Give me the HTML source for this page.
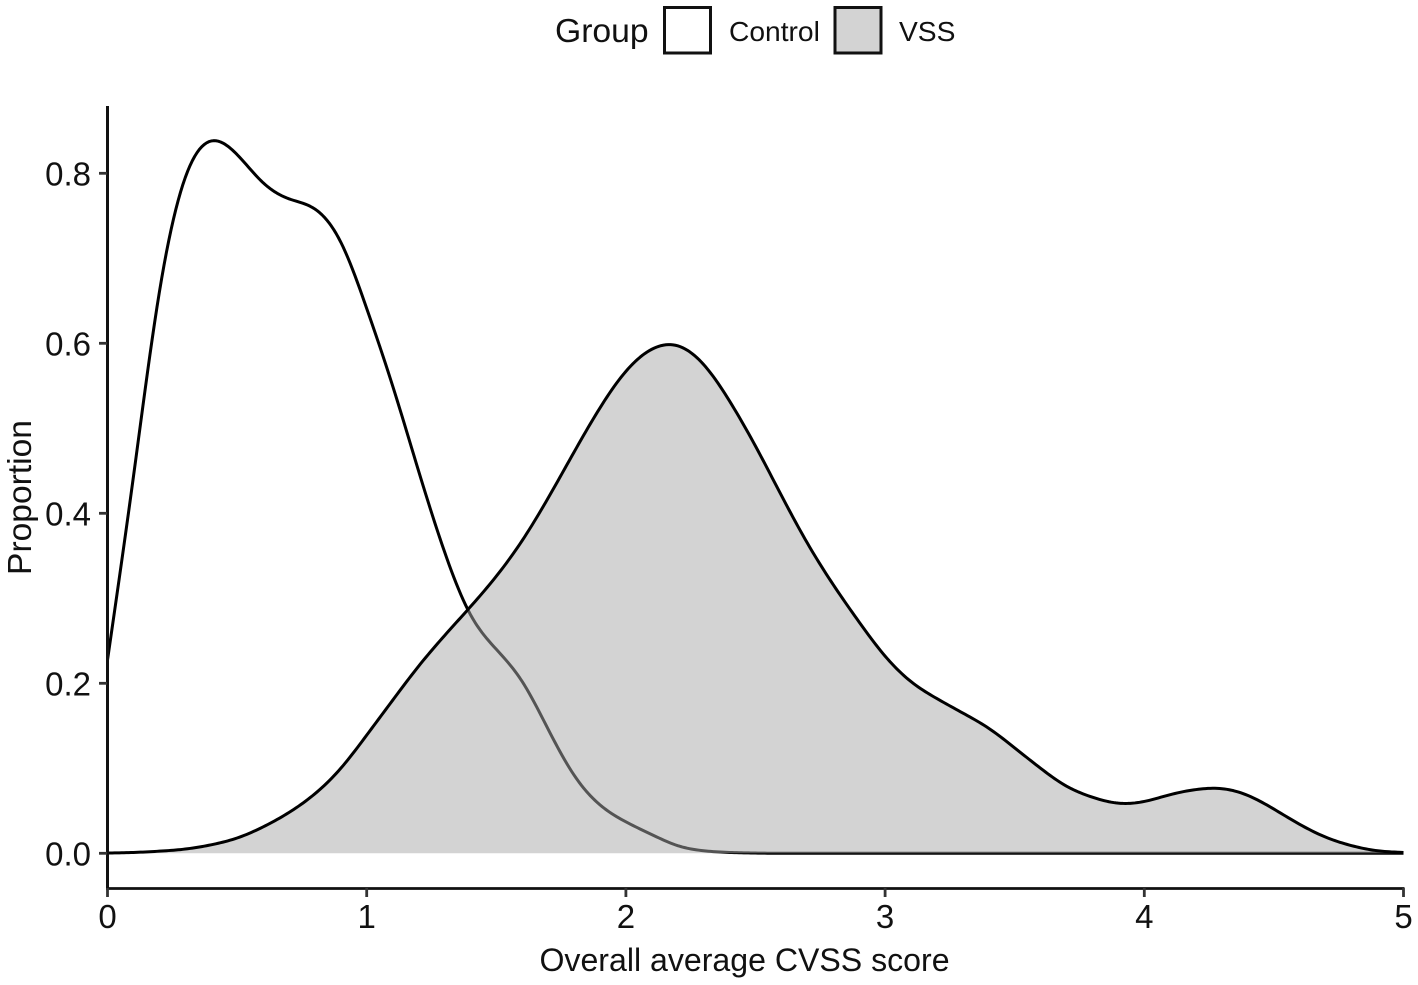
<!DOCTYPE html>
<html lang="en">
<head>
<meta charset="utf-8">
<title>Overall average CVSS score density</title>
<style>
html,body{margin:0;padding:0;background:#fff;}
svg{display:block;font-family:"Liberation Sans",Arial,sans-serif;fill:#111;}
</style>
</head>
<body>
<svg id="chart" width="1418" height="985" viewBox="0 0 1418 985" xmlns="http://www.w3.org/2000/svg">
  <g id="plot"></g>
  <g id="axes"></g>
  <text x="744.5" y="971" font-size="32.1" text-anchor="middle">Overall average CVSS score</text>
  <text transform="translate(31,497.5) rotate(-90)" font-size="33.6" text-anchor="middle">Proportion</text>
  <g>
    <text x="555" y="42" font-size="33.7">Group</text>
    <rect x="664.5" y="7.5" width="46" height="45.5" fill="#fff" stroke="#111" stroke-width="3"/>
    <text x="729" y="41" font-size="28.2">Control</text>
    <rect x="835" y="7.5" width="46" height="45.5" fill="#d3d3d3" stroke="#111" stroke-width="3"/>
    <text x="899" y="41" font-size="28.2">VSS</text>
  </g>
</svg>
<script>
const xTickLabels = ["0","1","2","3","4","5"];
const yTickLabels = ["0.0","0.2","0.4","0.6","0.8"];

const controlScores = [0,.1,.2,.3,.4,.5,.6,.7,.8,.9,1,1.1,1.2,1.3,1.4,1.5,1.6,1.7,1.8,1.9,2,2.1,2.2,2.3,2.4,2.5,2.6,2.8,3,3.5,4,4.5,5];
const controlDensity = [.2274,.443,.66,.795,.838,.822,.789,.77,.758,.719,.641,.55,.45,.355,.281,.24,.202,.146,.092,.057,.037,.022,.009,.003,.001,.0003,0,0,0,0,0,0,0];

const vssScores = [0,.1,.2,.3,.4,.5,.6,.7,.8,.9,1,1.1,1.2,1.3,1.4,1.5,1.6,1.7,1.8,1.9,2,2.1,2.2,2.3,2.4,2.5,2.6,2.7,2.8,2.9,3,3.1,3.2,3.3,3.4,3.5,3.6,3.7,3.8,3.9,4,4.1,4.2,4.3,4.4,4.5,4.6,4.7,4.8,4.9,5];
const vssDensity = [.0003,.001,.0025,.005,.01,.018,.031,.048,.07,.1,.139,.18,.22,.256,.29,.326,.368,.418,.472,.524,.567,.593,.597,.575,.532,.479,.421,.365,.316,.272,.232,.202,.182,.165,.147,.124,.1,.079,.066,.059,.061,.069,.075,.076,.068,.052,.034,.019,.009,.003,.001];

const NS = "http://www.w3.org/2000/svg";
function xScale(v){ return 107.5 + v * 259.2; }
function yScale(v){ return 853.3 - v * 850; }

// natural cubic spline through the data, sampled along the x axis
function smoothPath(xs, ys){
  const n = xs.length, a = new Array(n).fill(0), b = new Array(n).fill(1), c = new Array(n).fill(0), r = new Array(n).fill(0);
  for(let i=1;i<n-1;i++){
    const h0 = xs[i]-xs[i-1], h1 = xs[i+1]-xs[i];
    a[i] = h0; b[i] = 2*(h0+h1); c[i] = h1;
    r[i] = 6*((ys[i+1]-ys[i])/h1-(ys[i]-ys[i-1])/h0);
  }
  for(let i=1;i<n;i++){
    const m = a[i]/b[i-1];
    b[i] -= m*c[i-1];
    r[i] -= m*r[i-1];
  }
  const M = new Array(n).fill(0);
  M[n-1] = r[n-1]/b[n-1];
  for(let i=n-2;i>=0;i--){ M[i] = (r[i]-c[i]*M[i+1])/b[i]; }
  const parts = [];
  for(let i=0;i<n-1;i++){
    const h = xs[i+1]-xs[i], steps = Math.max(2, Math.ceil(h*259.2/2.5));
    for(let s=(i===0?0:1);s<=steps;s++){
      const x = xs[i]+h*s/steps, A = (xs[i+1]-x)/h, B = (x-xs[i])/h;
      const y = A*ys[i]+B*ys[i+1]+((A*A*A-A)*M[i]+(B*B*B-B)*M[i+1])*h*h/6;
      parts.push(xScale(x).toFixed(2)+" "+yScale(Math.max(y,0)).toFixed(2));
    }
  }
  return "M"+parts.join(" L");
}
function make(tag, attrs){
  const el = document.createElementNS(NS, tag);
  for(const k in attrs){ el.setAttribute(k, attrs[k]); }
  return el;
}

const plot = document.getElementById("plot");
const axes = document.getElementById("axes");

const controlLine = make("path", {d: smoothPath(controlScores, controlDensity), fill:"none", stroke:"#000", "stroke-width":"3", "stroke-linejoin":"round"});


plot.appendChild(controlLine);

const vssCurve = smoothPath(vssScores, vssDensity);
const vssFillPath = vssCurve + " L" + xScale(vssScores[vssScores.length-1]).toFixed(2) + " " + yScale(0).toFixed(2) + " L" + xScale(vssScores[0]).toFixed(2) + " " + yScale(0).toFixed(2) + " Z";
const vssFill = make("path", {d: vssFillPath, fill:"rgb(167,167,167)", "fill-opacity":"0.5", stroke:"none"});


plot.appendChild(vssFill);

const vssLine = make("path", {d: vssCurve, fill:"none", stroke:"#000", "stroke-width":"3", "stroke-linejoin":"round"});


plot.appendChild(vssLine);

const yAxisLine = make("line", {x1:107.5, x2:107.5, y1:106, y2:888.5, stroke:"#111", "stroke-width":"3"});


axes.appendChild(yAxisLine);

const xAxisLine = make("line", {x1:106, x2:1404.5, y1:888.5, y2:888.5, stroke:"#111", "stroke-width":"2.8"});


axes.appendChild(xAxisLine);

yTickLabels.forEach(function(label){
  const v = parseFloat(label), y = yScale(v);
  const tick = make("line", {x1:99, x2:107, y1:y, y2:y, stroke:"#333", "stroke-width":"2.8"});
  
  
  axes.appendChild(tick);
  const t = make("text", {x:91, y:y+12, "font-size":"33", "text-anchor":"end"});
  
  
  t.textContent = label;
  axes.appendChild(t);
});

xTickLabels.forEach(function(label){
  const v = parseFloat(label), x = xScale(v);
  const tick = make("line", {x1:x, x2:x, y1:888, y2:897, stroke:"#333", "stroke-width":"2.8"});
  
  
  axes.appendChild(tick);
  const t = make("text", {x:x, y:928, "font-size":"33", "text-anchor":"middle"});
  
  
  t.textContent = label;
  axes.appendChild(t);
});
</script>
</body>
</html>
